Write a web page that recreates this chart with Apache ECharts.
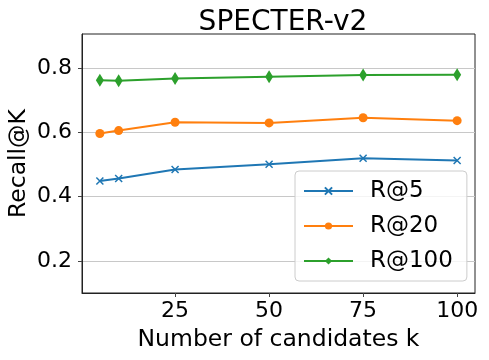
<!DOCTYPE html>
<html>
<head>
<meta charset="utf-8">
<script src="https://cdn.jsdelivr.net/npm/echarts@6/dist/echarts.min.js"></script>
<style>html,body{margin:0;padding:0;background:#fff}#c{width:489px;height:360px}</style>
</head>
<body>
<div id="c"></div>
<script>
const kValues = [5, 10, 25, 50, 75, 100];
const r5 = [0.449, 0.457, 0.485, 0.501, 0.520, 0.513];
const r20 = [0.597, 0.606, 0.632, 0.630, 0.646, 0.637];
const r100 = [0.763, 0.761, 0.768, 0.774, 0.779, 0.780];
const xTicks = [25, 50, 75, 100];
const yTicks = [0.2, 0.4, 0.6, 0.8];

const FONT = 'DejaVu Sans';
const pair = arr => kValues.map((k, i) => [k, arr[i]]);
const chart = echarts.init(document.getElementById('c'), null, {renderer: 'canvas'});
const xPath = 'path://M0,0 L10,10 M10,0 L0,10';

chart.setOption({
  animation: false,
  backgroundColor: '#fff',
  title: {
    text: 'SPECTER-v2', left: 278, top: 4, textAlign: 'center',
    textStyle: {fontFamily: FONT, fontSize: 28, fontWeight: 'normal', color: '#000'}
  },
  grid: {left: 82, right: 14, top: 34, bottom: 67, containLabel: false, outerBoundsMode: 'none',
    show: true, borderColor: '#222', borderWidth: 1, backgroundColor: 'transparent'},
  legend: {
    left: 295, top: 171, orient: 'vertical',
    padding: [8, 14, 8, 8],
    backgroundColor: 'rgba(255,255,255,0.8)', borderColor: '#ccc', borderWidth: 1, borderRadius: 4,
    itemWidth: 49, itemHeight: 9, itemGap: 11,
    textStyle: {fontFamily: FONT, fontSize: 23, color: '#000', padding: [0, 0, 0, 12], lineHeight: 24},
    data: ['R@5', 'R@20', 'R@100']
  },
  xAxis: {
    type: 'value', min: 0.25, max: 104.75,
    name: 'Number of candidates k', nameLocation: 'middle', nameGap: 35, nameMoveOverlap: false,
    nameTextStyle: {fontFamily: FONT, fontSize: 23.5, color: '#000'},
    axisLine: {show: true, lineStyle: {color: '#222', width: 1}},
    axisTick: {show: true, length: 4, lineStyle: {color: '#444'}, customValues: xTicks},
    axisLabel: {fontFamily: FONT, fontSize: 22, color: '#000', margin: 7, customValues: xTicks},
    splitLine: {show: false}
  },
  yAxis: {
    type: 'value', min: 0.1, max: 0.907,
    name: 'Recall@K', nameLocation: 'middle', nameGap: 51, nameRotate: 90, nameMoveOverlap: false,
    nameTextStyle: {fontFamily: FONT, fontSize: 23.5, color: '#000'},
    axisLine: {show: true, lineStyle: {color: '#222', width: 1}},
    axisTick: {show: true, length: 4, lineStyle: {color: '#444'}, customValues: yTicks},
    axisLabel: {fontFamily: FONT, fontSize: 22, color: '#000', margin: 10, customValues: yTicks,
      formatter: v => v.toFixed(1)},
    splitLine: {show: true, lineStyle: {color: '#c8c8c8', width: 1}}
  },
  series: [
    {name: 'R@5', type: 'line', data: pair(r5), symbol: xPath, symbolSize: 7,
     lineStyle: {color: '#1f77b4', width: 2},
     itemStyle: {color: '#1f77b4', borderColor: '#1f77b4', borderWidth: 1.5}},
    {name: 'R@20', type: 'line', data: pair(r20), symbol: 'circle', symbolSize: 9,
     lineStyle: {color: '#ff7f0e', width: 2},
     itemStyle: {color: '#ff7f0e', borderWidth: 0}},
    {name: 'R@100', type: 'line', data: pair(r100), symbol: 'diamond', symbolSize: [8, 13],
     lineStyle: {color: '#2ca02c', width: 2},
     itemStyle: {color: '#2ca02c', borderWidth: 0}}
  ]
});
</script>
</body>
</html>
